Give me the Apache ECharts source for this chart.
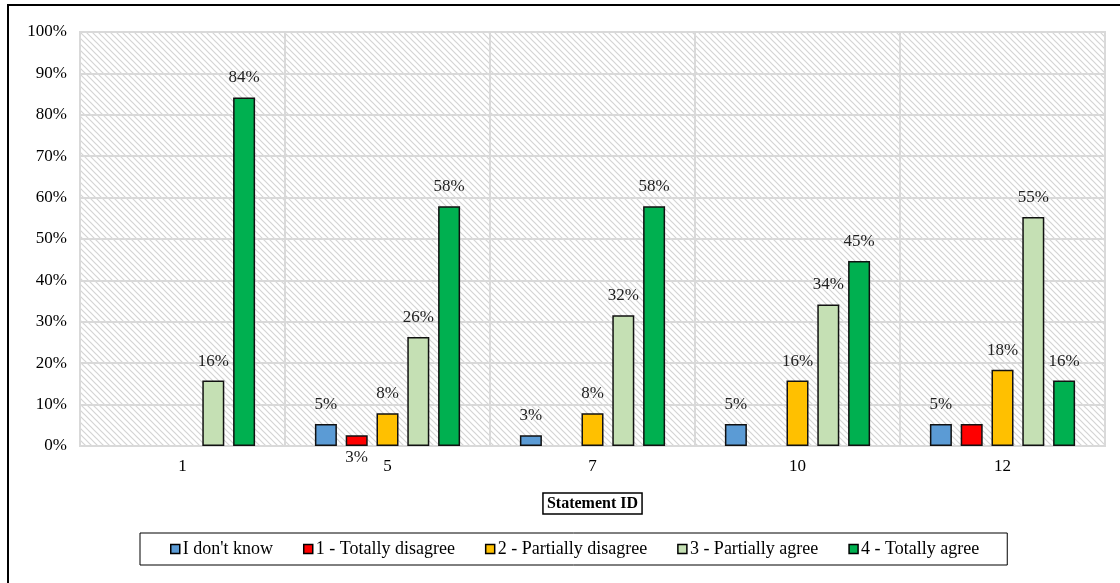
<!DOCTYPE html>
<html>
<head>
<meta charset="utf-8">
<script src="https://cdn.jsdelivr.net/npm/echarts@6/dist/echarts.min.js"></script>
<style>
  html, body { margin: 0; padding: 0; background: #fff; }
  #chart { width: 1120px; height: 583px; }
</style>
</head>
<body>
<div id="chart"></div>
<script>
const categories = ['1', '5', '7', '10', '12']
const seriesNames = ['I don\'t know', '1 - Totally disagree', '2 - Partially disagree', '3 - Partially agree', '4 - Totally agree']
const seriesColors = ['#5b9bd5', '#ff0000', '#ffc000', '#c5e0b4', '#00b050']

const dontKnow = [0, 5.3, 2.6, 5.3, 5.3]
const totallyDisagree = [0, 2.6, 0, 0, 5.3]
const partiallyDisagree = [0, 7.9, 7.9, 15.8, 18.4]
const partiallyAgree = [15.8, 26.3, 31.6, 34.2, 55.3]
const totallyAgree = [84.2, 57.9, 57.9, 44.7, 15.8]

const yTicks = [0, 10, 20, 30, 40, 50, 60, 70, 80, 90, 100]

const font = 'Liberation Serif, Times New Roman, serif'

// diagonal hatch for the plot background
const makeHatch = () => {
  const c = document.createElement('canvas')
  c.width = 6
  c.height = 6
  const ctx = c.getContext('2d')
  ctx.fillStyle = '#ffffff'
  ctx.fillRect(0, 0, 6, 6)
  ctx.strokeStyle = '#d4d4d4'
  ctx.lineWidth = 1.2
  ctx.beginPath()
  ctx.moveTo(-1, -1); ctx.lineTo(7, 7)
  ctx.moveTo(-1, 5); ctx.lineTo(1, 7)
  ctx.moveTo(5, -1); ctx.lineTo(7, 1)
  ctx.stroke()
  return c
}

const allValues = [dontKnow, totallyDisagree, partiallyDisagree, partiallyAgree, totallyAgree]

const buildData = (values, si) => values.map((v, ci) => {
  if (v === 0) return '-'
  const item = { value: v }
  // red bar at statement 5 has its label under the axis, at 12 it is hidden
  if (si === 1 && ci === 1) item.label = { position: 'bottom', distance: 3 }
  if (si === 1 && ci === 4) item.label = { show: false }
  return item
})

const chart = echarts.init(document.getElementById('chart'))

chart.setOption({
  backgroundColor: '#ffffff',
  animation: false,
  graphic: [{
    type: 'rect',
    shape: { x: 8, y: 5, width: 1300, height: 800 },
    style: { fill: 'none', stroke: '#000', lineWidth: 2 },
    silent: true,
    z: 100
  }],
  grid: {
    left: 80,
    right: 15,
    top: 32,
    bottom: 137,
    show: true,
    backgroundColor: { image: makeHatch(), repeat: 'repeat' },
    borderColor: '#d9d9d9',
    borderWidth: 2
  },
  legend: {
    data: seriesNames,
    left: 140,
    top: 533,
    padding: [7, 28, 7, 30],
    itemWidth: 9,
    itemHeight: 9,
    itemGap: 30,
    borderColor: '#000',
    borderWidth: 1,
    icon: 'rect',
    itemStyle: { borderColor: '#000', borderWidth: 1.5 },
    textStyle: { fontFamily: font, fontSize: 18, color: '#000', padding: [0, 0, 0, -2] }
  },
  xAxis: {
    type: 'category',
    data: categories,
    name: 'Statement ID',
    nameLocation: 'middle',
    nameGap: 47,
    nameTextStyle: {
      fontFamily: font,
      fontSize: 16,
      fontWeight: 'bold',
      color: '#000',
      borderColor: '#000',
      borderWidth: 1.5,
      padding: [3, 4, 2, 4]
    },
    axisLine: { show: true, lineStyle: { color: '#d9d9d9', width: 2 } },
    axisTick: { show: false },
    axisLabel: { fontFamily: font, fontSize: 17, color: '#000', margin: 12 },
    splitLine: { show: true, lineStyle: { color: '#d9d9d9', width: 2 } }
  },
  yAxis: {
    type: 'value',
    min: yTicks[0],
    max: yTicks[yTicks.length - 1],
    interval: 10,
    axisLine: { show: false },
    axisTick: { show: false },
    axisLabel: {
      fontFamily: font,
      fontSize: 17,
      color: '#000',
      margin: 13,
      formatter: v => v + '%'
    },
    splitLine: { show: true, lineStyle: { color: '#d9d9d9', width: 2 } }
  },
  series: allValues.map((values, si) => ({
    name: seriesNames[si],
    type: 'bar',
    barWidth: 22,
    barGap: '40%',
    itemStyle: { color: seriesColors[si], borderColor: '#111', borderWidth: 1.5 },
    label: {
      show: true,
      position: 'top',
      distance: 11,
      fontFamily: font,
      fontSize: 17,
      color: '#222',
      formatter: p => Math.round(p.value) + '%'
    },
    data: buildData(values, si)
  }))
})
</script>
</body>
</html>
